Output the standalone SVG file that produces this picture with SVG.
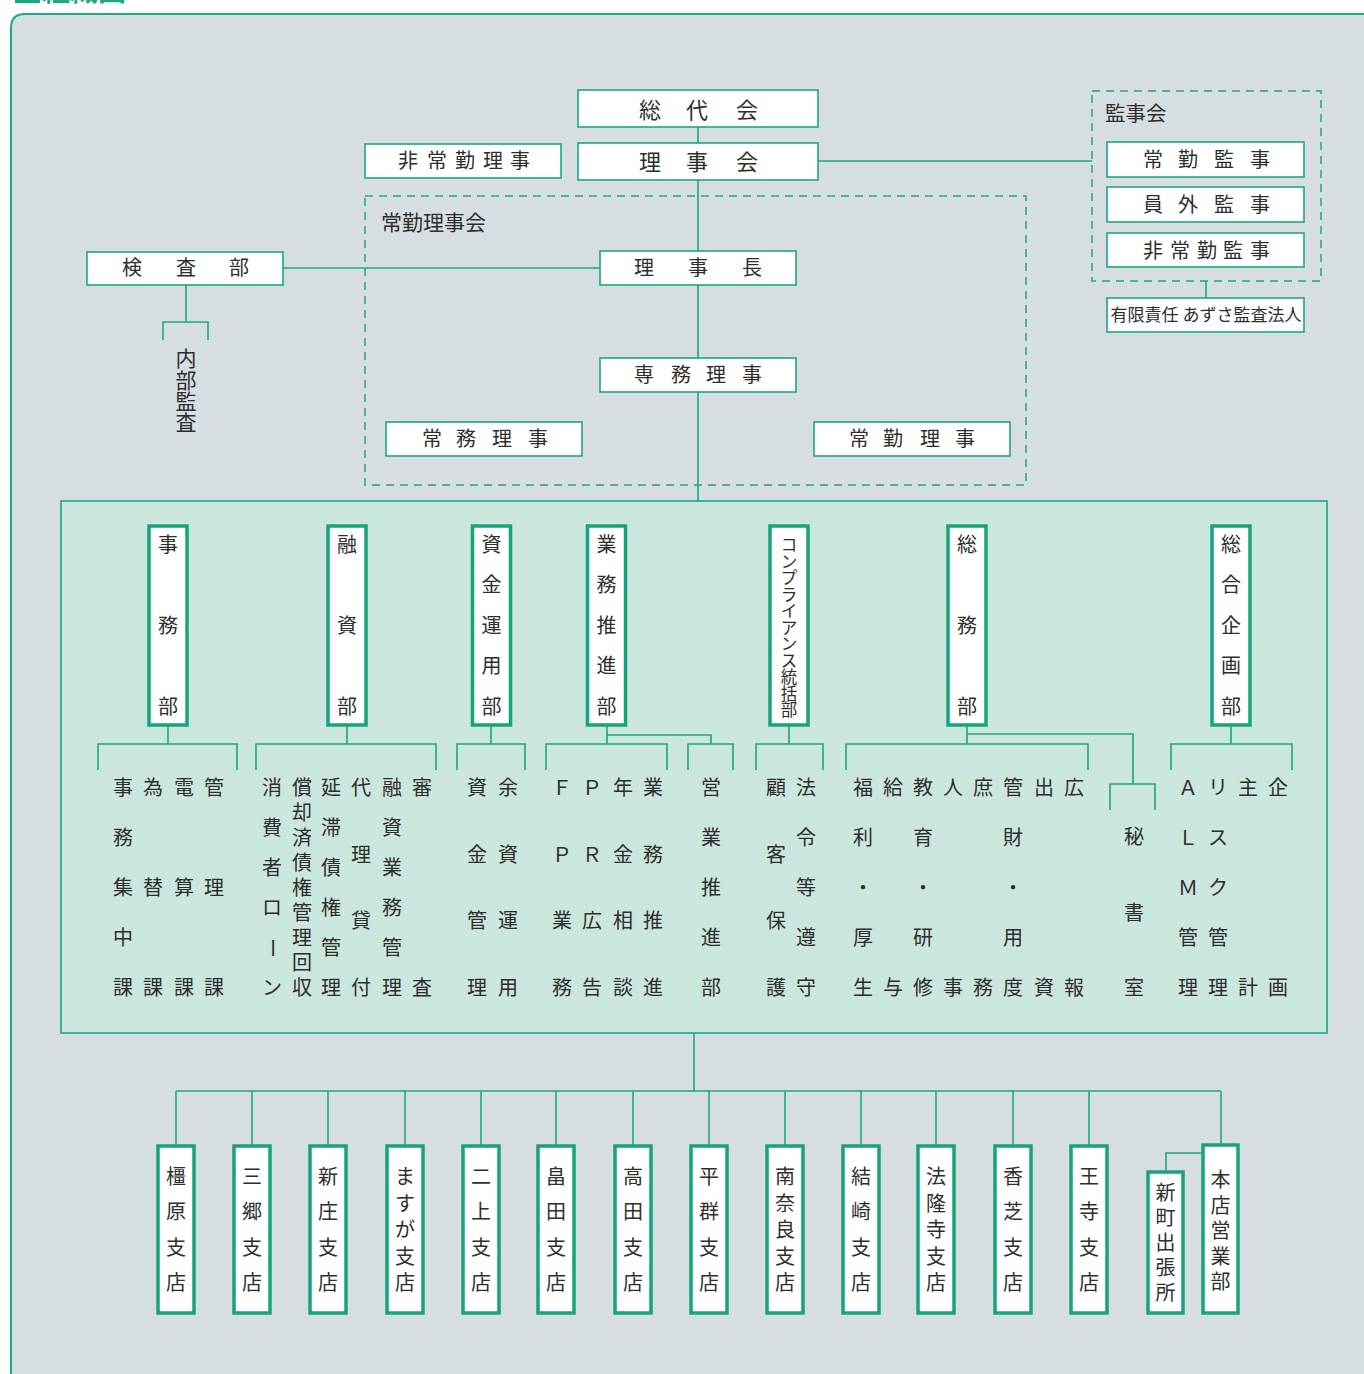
<svg xmlns="http://www.w3.org/2000/svg" width="1364" height="1374" viewBox="0 0 1364 1374">
<style>
text{font-family:"Noto Sans CJK JP","Noto Sans",sans-serif;fill:#2e2e2e;text-anchor:middle}
.t22{font-size:22px}
.t20{font-size:20px}
.t17{font-size:16.5px}
.lbl{text-anchor:start;font-size:21px}
.box{fill:#fff;stroke:#1ba97f;stroke-width:1.6}
.vbox{fill:#fff;stroke:#16a47a;stroke-width:3.5}
.dash{fill:none;stroke:#1ba97f;stroke-width:1.5;stroke-dasharray:8 6}
.ln{fill:none;stroke:#1ba97f;stroke-width:1.6}
</style>
<rect x="0" y="0" width="1364" height="1374" fill="#fff"/>
<rect x="15" y="0" width="25" height="3" fill="#1ba97f"/>
<text x="42" y="1" style="text-anchor:start;font-size:28px;font-weight:bold;fill:#1ba97f">組織図</text>
<path d="M11 1374 V28 Q11 14 25 14 H1364 V1374 Z" fill="#d7dee1"/>
<path d="M11 1374 V28 Q11 14 25 14 H1364" fill="none" stroke="#1ba97f" stroke-width="2"/>
<rect x="61" y="501" width="1266" height="532" fill="#cbe6dc" stroke="#1ba97f" stroke-width="1.6"/>

<g id="connectors">
<path class="ln" d="M698 127V143M698 180V251M698 285V358M698 392V501M818 161H1092M1206 281V298M283 268H600"/>
<path class="ln" d="M186 285V322M163 340V322H208V340"/>
<path class="ln" d="M168 725V744M98 770V744H237V770"/>
<path class="ln" d="M347 725V744M256 770V744H436V770"/>
<path class="ln" d="M491 725V744M457 770V744H525V770"/>
<path class="ln" d="M607 725V744M546 770V744H667V770M607 735H711V744M688 770V744H733V770"/>
<path class="ln" d="M789 725V744M756 770V744H823V770"/>
<path class="ln" d="M967 725V744M846 770V744H1088V770M967 734H1133V784M1110 810V784H1155V810"/>
<path class="ln" d="M1231 725V744M1171 770V744H1292V770"/>
<path class="ln" d="M694 1033V1091M176 1091H1221M176 1091V1146M252 1091V1146M328 1091V1146M405 1091V1146M481 1091V1146M556 1091V1146M633 1091V1146M709 1091V1146M785 1091V1146M861 1091V1146M936 1091V1146M1013 1091V1146M1089 1091V1146M1221 1091V1145M1166 1172V1153H1204"/>
</g>

<g id="sodaikai"><rect class="box" x="578" y="90" width="240" height="37"/><text class="t22" x="650 697 747" y="118">総代会</text></g>
<g id="rijikai"><rect class="box" x="578" y="143" width="240" height="37"/><text class="t22" x="650 697 747" y="170">理事会</text></g>
<g id="hijokin-riji"><rect class="box" x="365" y="144" width="196" height="34"/><text class="t20" x="408 437 465 493 520" y="168">非常勤理事</text></g>

<g id="kanjikai"><rect class="dash" x="1092" y="91" width="229" height="190"/><text class="lbl" style="font-size:20.5px" x="1105" y="121">監事会</text></g>
<g id="jokin-kanji"><rect class="box" x="1107" y="142" width="197" height="35"/><text class="t20" x="1153 1188 1224 1260" y="167">常勤監事</text></g>
<g id="ingai-kanji"><rect class="box" x="1107" y="187" width="197" height="35"/><text class="t20" x="1153 1188 1224 1260" y="212">員外監事</text></g>
<g id="hijokin-kanji"><rect class="box" x="1107" y="233" width="197" height="34"/><text class="t20" x="1153 1180 1207 1233 1260" y="258">非常勤監事</text></g>
<g id="azusa"><rect class="box" x="1107" y="298" width="197" height="34"/><text style="font-size:17px" x="1206" y="321">有限責任 あずさ監査法人</text></g>

<g id="jokin-rijikai"><rect class="dash" x="365" y="196" width="661" height="289"/><text class="lbl" x="381" y="230">常勤理事会</text></g>
<g id="rijicho"><rect class="box" x="600" y="251" width="196" height="34"/><text class="t20" x="644 698 752" y="275">理事長</text></g>
<g id="senmu-riji"><rect class="box" x="600" y="358" width="196" height="34"/><text class="t20" x="644 681 716 752" y="382">専務理事</text></g>
<g id="jomu-riji"><rect class="box" x="386" y="422" width="196" height="34"/><text class="t20" x="432 466 502 538" y="446">常務理事</text></g>
<g id="jokin-riji"><rect class="box" x="814" y="422" width="196" height="34"/><text class="t20" x="859 893 930 965" y="446">常勤理事</text></g>

<g id="kensabu"><rect class="box" x="87" y="252" width="196" height="33"/><text class="t20" x="132 186 239" y="275">検査部</text></g>
<g id="naibu-kansa"><text style="font-size:21px" x="186 186 186 186" y="366 388 409 430">内部監査</text></g>

<g id="jimubu"><rect class="vbox" x="149" y="526" width="38" height="199"/><text class="t20" x="168 168 168" y="552 633 714">事務部</text></g>
<g id="yushibu"><rect class="vbox" x="328" y="526" width="38" height="199"/><text class="t20" x="347 347 347" y="552 633 714">融資部</text></g>
<g id="shikin-unyobu"><rect class="vbox" x="472.5" y="526" width="38" height="199"/><text class="t20" x="491.5 491.5 491.5 491.5 491.5" y="552 592 633 673 714">資金運用部</text></g>
<g id="gyomu-suishinbu"><rect class="vbox" x="587.5" y="526" width="38" height="199"/><text class="t20" x="606.5 606.5 606.5 606.5 606.5" y="552 592 633 673 714">業務推進部</text></g>
<g id="compliance"><rect class="vbox" x="770" y="526" width="38" height="199"/><text class="t17" x="789 789 789 789 789 789 789 789 789 789 789" y="551 567.5 584 600.5 617 633.5 650 666.5 683 699.5 716">コンプライアンス統括部</text></g>
<g id="somubu"><rect class="vbox" x="948" y="526" width="38" height="199"/><text class="t20" x="967 967 967" y="552 633 714">総務部</text></g>
<g id="sogo-kikakubu"><rect class="vbox" x="1212" y="526" width="38" height="199"/><text class="t20" x="1231 1231 1231 1231 1231" y="552 592 633 673 714">総合企画部</text></g>

<g id="jimubu-ka">
<text class="t20" x="123 123 123 123 123" y="795 845 895 945 995">事務集中課</text>
<text class="t20" x="153 153 153" y="795 895 995">為替課</text>
<text class="t20" x="184 184 184" y="795 895 995">電算課</text>
<text class="t20" x="214 214 214" y="795 895 995">管理課</text>
</g>
<g id="yushibu-ka">
<text class="t20" x="272 272 272 272" y="795 835 875 915">消費者ロ</text>
<text class="t20" x="272" y="955" transform="rotate(90 272 948)">ー</text>
<text class="t20" x="272" y="995">ン</text>
<text class="t20" x="302 302 302 302 302 302 302 302 302" y="795 820 845 870 895 920 945 970 995">償却済債権管理回収</text>
<text class="t20" x="331 331 331 331 331 331" y="795 835 875 915 955 995">延滞債権管理</text>
<text class="t20" x="361 361 361 361" y="795 862 928 995">代理貸付</text>
<text class="t20" x="392 392 392 392 392 392" y="795 835 875 915 955 995">融資業務管理</text>
<text class="t20" x="422 422" y="795 995">審査</text>
</g>
<g id="shikin-ka">
<text class="t20" x="477 477 477 477" y="795 862 928 995">資金管理</text>
<text class="t20" x="508 508 508 508" y="795 862 928 995">余資運用</text>
</g>
<g id="gyomu-ka">
<text class="t20" x="562 562 562 562" y="795 862 928 995">ＦＰ業務</text>
<text class="t20" x="592 592 592 592" y="795 862 928 995">ＰＲ広告</text>
<text class="t20" x="623 623 623 623" y="795 862 928 995">年金相談</text>
<text class="t20" x="653 653 653 653" y="795 862 928 995">業務推進</text>
</g>
<g id="eigyo-suishinbu"><text class="t20" x="711 711 711 711 711" y="795 845 895 945 995">営業推進部</text></g>
<g id="compliance-ka">
<text class="t20" x="776 776 776 776" y="795 862 928 995">顧客保護</text>
<text class="t20" x="806 806 806 806 806" y="795 845 895 945 995">法令等遵守</text>
</g>
<g id="somu-ka">
<text class="t20" x="863 863 863 863 863" y="795 845 895 945 995">福利・厚生</text>
<text class="t20" x="893 893" y="795 995">給与</text>
<text class="t20" x="923 923 923 923 923" y="795 845 895 945 995">教育・研修</text>
<text class="t20" x="953 953" y="795 995">人事</text>
<text class="t20" x="983 983" y="795 995">庶務</text>
<text class="t20" x="1013 1013 1013 1013 1013" y="795 845 895 945 995">管財・用度</text>
<text class="t20" x="1044 1044" y="795 995">出資</text>
<text class="t20" x="1074 1074" y="795 995">広報</text>
</g>
<g id="hishoshitsu"><text class="t20" x="1134 1134 1134" y="844 920 995">秘書室</text></g>
<g id="kikaku-ka">
<text class="t20" x="1188 1188 1188 1188 1188" y="795 845 895 945 995">ＡＬＭ管理</text>
<text class="t20" x="1218 1218 1218 1218 1218" y="795 845 895 945 995">リスク管理</text>
<text class="t20" x="1248 1248" y="795 995">主計</text>
<text class="t20" x="1278 1278" y="795 995">企画</text>
</g>

<g id="kashihara"><rect class="vbox" x="158" y="1146" width="36" height="167"/><text class="t20" x="176 176 176 176" y="1184 1219 1255 1290">橿原支店</text></g>
<g id="sango"><rect class="vbox" x="234" y="1146" width="36" height="167"/><text class="t20" x="252 252 252 252" y="1184 1219 1255 1290">三郷支店</text></g>
<g id="shinjo"><rect class="vbox" x="310" y="1146" width="36" height="167"/><text class="t20" x="328 328 328 328" y="1184 1219 1255 1290">新庄支店</text></g>
<g id="masuga"><rect class="vbox" x="387" y="1146" width="36" height="167"/><text class="t20" x="405 405 405 405 405" y="1184 1210.5 1237 1263.5 1290">ますが支店</text></g>
<g id="futakami"><rect class="vbox" x="463" y="1146" width="36" height="167"/><text class="t20" x="481 481 481 481" y="1184 1219 1255 1290">二上支店</text></g>
<g id="hatakeda"><rect class="vbox" x="538" y="1146" width="36" height="167"/><text class="t20" x="556 556 556 556" y="1184 1219 1255 1290">畠田支店</text></g>
<g id="takada"><rect class="vbox" x="615" y="1146" width="36" height="167"/><text class="t20" x="633 633 633 633" y="1184 1219 1255 1290">高田支店</text></g>
<g id="heguri"><rect class="vbox" x="691" y="1146" width="36" height="167"/><text class="t20" x="709 709 709 709" y="1184 1219 1255 1290">平群支店</text></g>
<g id="minaminara"><rect class="vbox" x="767" y="1146" width="36" height="167"/><text class="t20" x="785 785 785 785 785" y="1184 1210.5 1237 1263.5 1290">南奈良支店</text></g>
<g id="yuzaki"><rect class="vbox" x="843" y="1146" width="36" height="167"/><text class="t20" x="861 861 861 861" y="1184 1219 1255 1290">結崎支店</text></g>
<g id="horyuji"><rect class="vbox" x="918" y="1146" width="36" height="167"/><text class="t20" x="936 936 936 936 936" y="1184 1210.5 1237 1263.5 1290">法隆寺支店</text></g>
<g id="kashiba"><rect class="vbox" x="995" y="1146" width="36" height="167"/><text class="t20" x="1013 1013 1013 1013" y="1184 1219 1255 1290">香芝支店</text></g>
<g id="oji"><rect class="vbox" x="1071" y="1146" width="36" height="167"/><text class="t20" x="1089 1089 1089 1089" y="1184 1219 1255 1290">王寺支店</text></g>
<g id="shinmachi"><rect class="vbox" x="1148" y="1172" width="35" height="141"/><text class="t20" x="1165.5 1165.5 1165.5 1165.5 1165.5" y="1200 1225 1250 1275 1300">新町出張所</text></g>
<g id="honten"><rect class="vbox" x="1203" y="1145" width="35" height="168"/><text class="t20" x="1220.5 1220.5 1220.5 1220.5 1220.5" y="1187 1212.5 1238 1263.5 1289">本店営業部</text></g>
</svg>
